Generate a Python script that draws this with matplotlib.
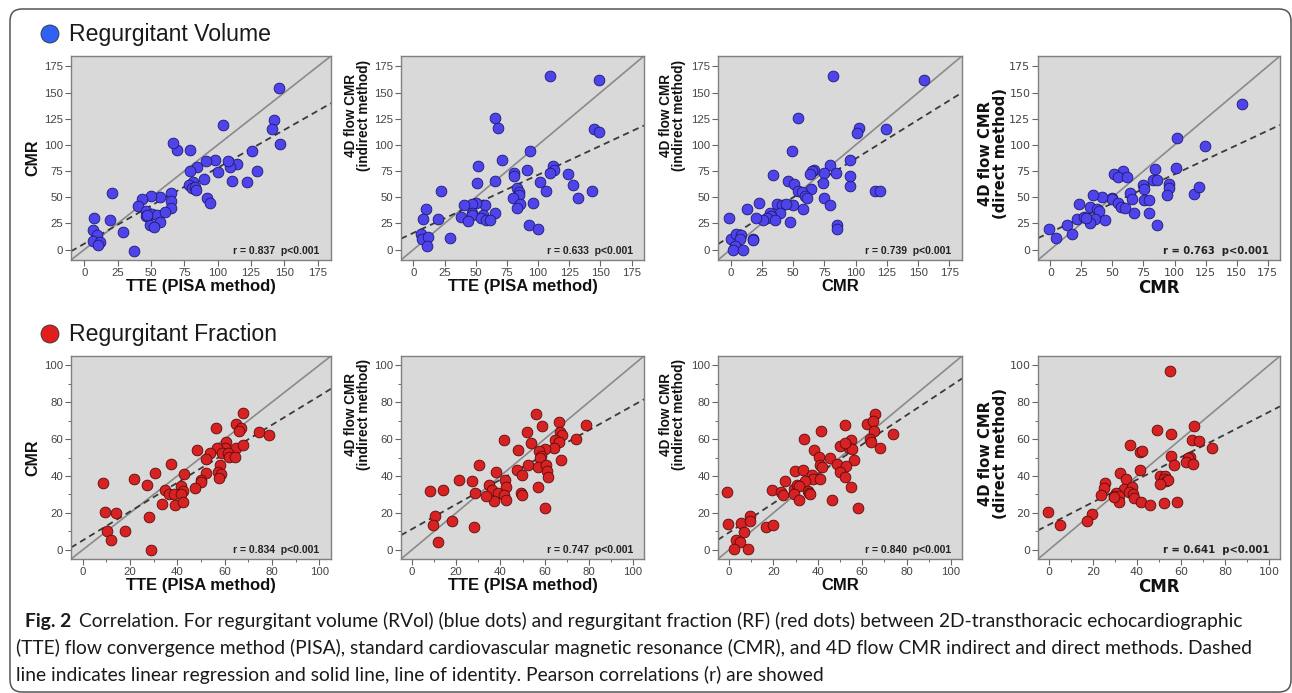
import matplotlib
matplotlib.use("Agg")
import matplotlib.pyplot as plt
import numpy as np
from matplotlib.patches import FancyBboxPatch, Circle
from matplotlib.transforms import Affine2D

# ---------------- DATA ----------------
# Regurgitant Volume
rv1_x = [146.3,142.3,140.4,146.5,104,125.6,129.5,121.7,110.6,114.5,109.6,107.9,100,98.3,91.2,89.5,92.2,94.1,84.6,79.4,79.4,69.6,66.4,81.6,78.4,80.9,83.3,83.6,64.7,64.7,64.7,57,49.9,43,40.1,46,46,51.1,54.6,60.7,56.8,48.9,52.6,46.7,21.1,19.2,29.3,37.4,7.4,6.4,9.3,6.6,11.6,10.6]
rv1_y = [154.2,124.2,115,100.9,119,94.2,75,64.2,65.5,82,79.2,84.3,74,85.3,85,67.4,49.5,44.4,79.2,75.4,95.5,95.5,102.2,64.2,61.3,58.4,60,57.2,54.3,46.3,39.3,50.1,51.4,48.2,41.2,37,32.3,34.2,33.2,36.1,26.2,23.3,21.1,33.2,54.3,28.1,17.2,-1,30,18.2,13.7,8.3,7.3,4.5]

rv2_x = [109.2,149,145,149,65.7,67.8,70.8,93.8,51.8,50.7,65.7,80.9,80.9,90.8,111.9,113,109.8,123.7,127.7,101.5,106,143.2,132,82.8,84.7,84.7,79.6,85.7,82.8,95.9,92.7,99.9,65.7,57.4,49.9,47,40.6,21.9,47.3,46.7,56.1,54,58,61.7,37.9,43.5,19.5,9.9,7.7,6.4,6.7,11.5,10.7,29.7]
rv2_y = [166.3,162.5,115.3,112.1,125.5,115.9,85.2,94.2,80.1,63.2,65.8,72.8,69.9,76.3,80.1,75.7,72.8,72.2,61.9,64.2,55.6,56.2,49.2,58.4,55.2,52,48.9,43.1,39.3,44.1,23.3,20.1,35.1,42.1,44.1,43.7,42.1,55.9,35.4,32.6,32.9,30.3,28.1,28.1,31,27.1,29,38.6,29.4,14.4,9.9,12.1,3.5,11.2]

rv3_x = [82.3,154.6,54.2,102.6,101.2,124.5,49.1,95.4,79.6,67,64.9,63.8,34.2,74.8,84.1,46.2,51,95.4,95.4,74.3,64.1,54.2,57.4,59.8,61.2,75,79.3,115.4,119.4,50.2,58.2,36.9,40.9,44.1,23,13.1,39.3,31.5,32.6,29.1,25.9,20.6,35.8,47.8,-1.6,85.2,85.2,0.3,4.5,8,7.8,3.7,1.9,10.1,17.6,18.2]
rv3_y = [166.3,162.5,125.5,115.9,111.8,115.3,94.2,85.2,80.5,76.3,75.4,71.8,70.9,72.8,72.8,65.8,62.9,61,69.9,63.5,57.8,55.6,54.6,51.4,48.9,49.2,42.8,56.2,55.6,42.1,38.6,43.1,42.5,43.7,44.1,38.3,34.8,34.5,32.3,29.7,28.1,29.7,27.8,26.8,30.3,23.3,19.5,9.9,14.4,13.7,10.5,3.5,-0.6,-0.3,10.5,8.9]

rv4_x = [154.4,102.3,124.2,101.2,84.4,82.8,85.5,74.3,75.3,95.6,95.4,94.3,115.7,119.7,58.5,51.5,54.2,61.4,64.4,65.4,75.3,79.6,79.3,67.6,85.5,49.4,50,54.2,57.2,60.1,41.4,34.2,32.3,37.4,39.5,36.3,32.3,44.3,23.2,21.4,26.7,28.6,13.4,17.4,-0.8,4.3]
rv4_y = [139.5,106.3,99.3,78.2,77.3,66.4,66.1,61.3,58.1,62.3,59.1,52,53.3,59.4,75.4,72.2,69,69.3,54.3,47.9,47.3,47.3,35.1,35.4,23.3,49.2,47.9,44.1,40.6,39.3,50.4,52.4,40.6,38.3,36.4,29.1,25.2,28.1,43.1,29.4,30.7,30.3,23.3,14.4,20.1,11.2]

# Regurgitant Fraction
rf1_x = [67.8,56.3,64.7,67,66,74.5,78.9,60.4,60.3,56.7,64.8,67.7,48.1,53.8,58.8,61.5,61.8,64.5,52.3,58,52.1,57,58.4,57.5,50,49.9,47.6,37.3,42.6,41.6,42.5,34.8,36.3,38.5,41.5,33.6,39,42.2,30.5,27.1,21.5,8.4,9.4,14,28.1,10.3,17.8,11.8,28.8]
rf1_y = [74.3,65.9,68.1,65.8,64.5,63.6,62.1,58.5,55.4,55.1,55.4,56.7,54.3,52.4,52.5,52.7,50.5,50.5,49.1,45.8,41.8,42.4,40.8,39,37.9,36.6,33.3,46.7,41.1,34.4,32.1,32.2,30.4,30.4,30.4,25,24.1,26.1,41.5,35,38.2,36.2,20.5,19.9,17.6,10.3,10.3,5.4,-0.2]

rf2_x = [56.3,66.3,78.6,58.7,52,67.1,67.7,41.6,53.7,64.8,66.3,74.2,64.3,60.1,57.5,58.3,57.7,48.1,67.5,52.4,56.9,60.7,61.3,61.5,47.5,49.9,38.2,30.5,42.3,42.5,56.8,34.7,36.3,39,41.6,49.5,49.6,42.5,37.3,33.7,28.7,27.2,21.4,14.1,8.3,60.1,10.3,9.6,17.9,27.9,11.8]
rf2_y = [73.7,69.2,67.6,67,64,64,62.3,59.6,57.6,59.4,58.3,59.8,55.3,54.7,53.4,50.9,49.5,54.3,48.6,46.2,44.9,45.7,42.6,39.5,43.1,40.4,42.4,46.2,38,34.1,34.2,35.3,32.6,30.8,29.5,30.8,29.9,26.8,26.6,29.3,31,37,38,32.4,31.7,22.5,18.1,13.4,15.8,12.5,4.2]

rf3_x = [65.7,62.1,64.9,52.4,41.6,65.4,74.1,33.8,55.1,63.3,64.2,68,53.9,55.4,50.2,52.1,38.4,40.4,45.5,56.3,41,41.9,48.6,52.7,49.9,29.9,33.1,52.2,37.2,37.9,40.8,54.8,25.3,34.4,19.3,23.5,24.4,29.1,30.7,31.7,29.3,35.5,36,36.4,31.6,46.4,58.1,-0.9,-0.3,5.2,9.4,9.4,6.8,2.9,4.7,2.4,8.3,16.7,19.9]
rf3_y = [73.7,67.9,69.6,67.4,64.1,64.3,62.7,59.8,59.6,59.8,58.3,55.4,54.9,54.7,56.3,57.8,53.8,50.5,49.6,48.9,46.2,44.9,46.4,45.5,42.4,42.6,43.1,39.5,40.6,38.2,38.2,34.2,37.3,37,32.6,31.2,29.5,33,35.1,34.4,30.4,32.1,30.8,30.1,27,26.8,22.5,31.2,13.8,14.7,18.1,15.6,9.6,5.4,4,0.2,0.5,12.5,13.4]

rf4_x = [54.9,65.9,48.9,55.3,64.9,68.1,74.2,36.6,41.5,42.2,55.3,63.9,63.3,62.2,65.5,56.6,41.2,32.2,50.3,52.6,52.1,53.2,54.3,50.3,34.8,25.6,24.9,34.1,37.7,23.8,30.3,29.7,32,36.3,38.1,38.6,31.7,29.6,41.8,45.7,52.4,58.4,19.7,17.2,-0.5,5]
rf4_y = [96.7,67.3,64.9,62.5,59.5,58.7,55.3,56.9,52.9,53.3,50.9,50.4,49.8,47.3,46.5,46.2,43.3,41.8,39.8,39.8,38.2,37.5,37.6,35.8,38.2,36.2,33.5,33.1,34.2,29.6,30.5,29.1,29.1,31.5,30,28.2,26,28.4,26,24.4,25.3,25.8,19.6,15.8,20.5,13.3]

x_labels = ["TTE (PISA method)", "TTE (PISA method)", "CMR", "CMR"]
y_labels = ["CMR", "4D flow CMR\n(indirect method)", "4D flow CMR\n(indirect method)", "4D flow CMR\n(direct method)"]
rv_stats = ["r = 0.837  p<0.001", "r = 0.633  p<0.001", "r = 0.739  p<0.001", "r = 0.763  p<0.001"]
rf_stats = ["r = 0.834  p<0.001", "r = 0.747  p<0.001", "r = 0.840  p<0.001", "r = 0.641  p<0.001"]
rv_ticks = [0, 25, 50, 75, 100, 125, 150, 175]
rf_ticks = [0, 20, 40, 60, 80, 100]
section_titles = ["Regurgitant Volume", "Regurgitant Fraction"]
caption_bold = "Fig. 2"
caption_lines = [
    "Correlation. For regurgitant volume (RVol) (blue dots) and regurgitant fraction (RF) (red dots) between 2D-transthoracic echocardiographic",
    "(TTE) flow convergence method (PISA), standard cardiovascular magnetic resonance (CMR), and 4D flow CMR indirect and direct methods. Dashed",
    "line indicates linear regression and solid line, line of identity. Pearson correlations (r) are showed",
]

# ---------------- FIGURE ----------------
W, H = 1292, 693
fig = plt.figure(figsize=(W / 100, H / 100), dpi=100)
fig.patch.set_facecolor("white")
px = Affine2D().scale(1.0 / W, -1.0 / H).translate(0, 1) + fig.transFigure

# rounded border
border = FancyBboxPatch((10, 9), 1281, 683, boxstyle="round,pad=0,rounding_size=12",
                        transform=px, fill=False, edgecolor="#555555", linewidth=1.1)
fig.add_artist(border)

ARIAL = ["Liberation Sans", "DejaVu Sans"]
VERD = ["DejaVu Sans"]

def box(l, t, r, b):
    return [l / W, 1 - b / H, (r - l) / W, (b - t) / H]

cols = [(71, 331), (401, 644), (718, 962), (1038, 1280)]
rows = [(56, 260), (356, 559)]
ylab_x = [-0.146, -0.178, -0.186, -0.186]
ylab_y = [0.50, 0.71, 0.71, 0.52]

rv_data = [(rv1_x, rv1_y), (rv2_x, rv2_y), (rv3_x, rv3_y), (rv4_x, rv4_y)]
rf_data = [(rf1_x, rf1_y), (rf2_x, rf2_y), (rf3_x, rf3_y), (rf4_x, rf4_y)]

def draw_panel(ax, xs, ys, lims, ticks, minor, face, edge, xl, yl, stat, fam, ylx, yly):
    ax.set_facecolor("#d9d9d9")
    ax.set_xlim(lims)
    ax.set_ylim(lims)
    ax.set_xticks(ticks)
    ax.set_yticks(ticks)
    if minor:
        ax.set_xticks(np.arange(10, 101, 20), minor=True)
        ax.set_yticks(np.arange(10, 101, 20), minor=True)
    for s in ax.spines.values():
        s.set_color("#808080")
        s.set_linewidth(1.0)
    ax.tick_params(which="major", length=4, width=0.8, color="#666666",
                   labelsize=8.2, labelcolor="#444444", pad=1.5)
    ax.tick_params(which="minor", length=2.5, width=0.7, color="#666666")
    for lab in ax.get_xticklabels() + ax.get_yticklabels():
        lab.set_family(fam)
        if fam is VERD:
            lab.set_fontsize(8.0)
    ax.axline((0, 0), slope=1, color="#8a8a8a", lw=1.2, zorder=2)
    xa, ya = np.asarray(xs), np.asarray(ys)
    m, b = np.polyfit(xa, ya, 1)
    ax.axline((0, b), slope=m, color="#3a3a3a", lw=1.3, ls=(0, (3.5, 2.4)), zorder=2)
    ax.scatter(xa, ya, s=60, c=face, edgecolors=edge, linewidths=0.6, zorder=3)
    ax.text(0.955, 0.045, stat, transform=ax.transAxes, ha="right", va="center",
            fontsize=7.5 if fam is ARIAL else 7.2, fontweight="bold", color="#222222", family=fam)
    ax.set_xlabel(xl, fontsize=12.0, fontweight="bold", family=fam, color="#111111")
    ax.xaxis.set_label_coords(0.5, -0.095)
    if fam is VERD:
        yfs = 10.6
    else:
        yfs = 11.5 if "\n" not in yl else 9.8
    ax.set_ylabel(yl, fontsize=yfs, fontweight="bold", family=fam, color="#111111",
                  linespacing=0.95, va="center", ha="center", multialignment="center")
    ax.yaxis.set_label_coords(ylx, yly)

for ri, (data, stats, lims, ticks, minor, face, edge) in enumerate([
        (rv_data, rv_stats, (-10, 185), rv_ticks, False, "#4f44ec", "#1c1a70"),
        (rf_data, rf_stats, (-5, 105), rf_ticks, True, "#d62222", "#5c0b0b")]):
    t, bt = rows[ri]
    for ci, (l, r) in enumerate(cols):
        ax = fig.add_axes(box(l, t, r, bt))
        fam = VERD if ci == 3 else ARIAL
        xs, ys = data[ci]
        draw_panel(ax, xs, ys, lims, ticks, minor, face, edge,
                   x_labels[ci], y_labels[ci], stats[ci], fam, ylab_x[ci], ylab_y[ci])

# section headers
for (title, cy, col) in [(section_titles[0], 34, "#3060f4"), (section_titles[1], 334, "#e11d1d")]:
    fig.add_artist(Circle((50, cy), 9, transform=px, facecolor=col,
                          edgecolor="#333333", linewidth=0.6))
    fig.text(69 / W, 1 - cy / H, title, ha="left", va="center", fontsize=16.6,
             family=ARIAL, color="#1a1a1a")

# caption
renderer = fig.canvas.get_renderer()
cap_font = ["Lato", "Liberation Sans", "DejaVu Sans"]
probe = fig.text(0, 0, caption_lines[1], fontsize=12, family=cap_font)
wprobe = probe.get_window_extent(renderer).width
probe.remove()
cfs = 12 * (1234.0 / wprobe)
ys_cap = [621, 648, 675]
fb = fig.text(25 / W, 1 - ys_cap[0] / H, caption_bold, ha="left", va="center",
              fontsize=cfs, fontweight="bold", family=cap_font, color="#1a1a1a")
wb = fb.get_window_extent(renderer).width
fig.text((25 + wb + 8) / W, 1 - ys_cap[0] / H, caption_lines[0], ha="left", va="center",
         fontsize=cfs, family=cap_font, color="#1a1a1a")
for i in (1, 2):
    fig.text(16 / W, 1 - ys_cap[i] / H, caption_lines[i], ha="left", va="center",
             fontsize=cfs, family=cap_font, color="#1a1a1a")

fig.savefig("out.png", dpi=100)
